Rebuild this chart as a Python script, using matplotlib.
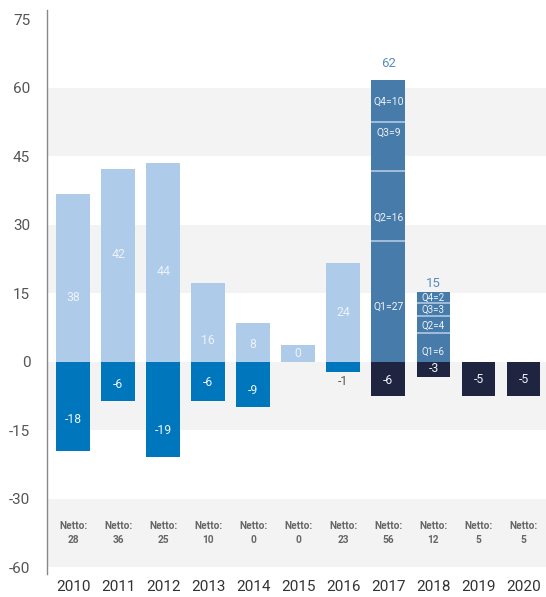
import matplotlib
matplotlib.use("Agg")
import matplotlib.pyplot as plt

plt.rcParams['font.family'] = ['Roboto', 'DejaVu Sans']

years = ['2010', '2011', '2012', '2013', '2014', '2015', '2016', '2017', '2018', '2019', '2020']
# bar heights as drawn
pos_heights = [36.7, 42.2, 43.5, 17.2, 8.5, 3.7, 21.7, None, None, None, None]
neg_heights = [-19.6, -8.5, -20.9, -8.5, -9.8, 0, -2.2, -7.6, -3.3, -7.4, -7.4]
# printed labels
pos_labels = ['38', '42', '44', '16', '8', '0', '24', None, None, None, None]
neg_labels = ['-18', '-6', '-19', '-6', '-9', None, '-1', '-6', '-3', '-5', '-5']
netto = ['28', '36', '25', '10', '0', '0', '23', '56', '12', '5', '5']

# quarterly stacks
q_2017 = [26.5, 15.2, 10.9, 9.1]
q_2017_labels = ['Q1=27', 'Q2=16', 'Q3=9', 'Q4=10']
q_2018 = [6.3, 3.7, 2.8, 2.4]
q_2018_labels = ['Q1=6', 'Q2=4', 'Q3=3', 'Q4=2']
totals = {7: '62', 8: '15'}

yticks = [75, 60, 45, 30, 15, 0, -15, -30, -45]
ytick_labels = ['75', '60', '45', '30', '15', '0', '-15', '-30', '-60']

# label placements (data units)
pos_label_y = [14.1, 23.5, 19.8, 4.6, 3.7, 1.8, 10.9]
neg_label_y = [-12.6, -5.0, -15.0, -4.6, -6.3, None, -4.3, -4.1, -1.5, -3.9, -3.9]
q_2017_label_y = [12.0, 31.5, 50.2, 57.0]
q_2018_label_y = [2.2, 7.8, 11.3, 14.1]
total_label_y = {7: 65.4, 8: 17.2}

LIGHT = '#AECBEA'
BLUE = '#0077BD'
STEEL = '#477BAA'
NAVY = '#1F2440'
BAND = '#F3F3F3'
TXT = '#555555'
INSIDE = '#EEF3FA'

fig = plt.figure(figsize=(5.46, 5.97), dpi=100)
ax = fig.add_axes([0.086, 0.050, 0.914, 0.925])
ax.set_xlim(-0.58, 10.5)
ax.set_ylim(-45, 76)

for lo, hi in [(45, 60), (15, 30), (-15, 0), (-45, -30)]:
    ax.axhspan(lo, hi, color=BAND, zorder=0, lw=0)

w = 0.75
x = list(range(len(years)))

for i in range(len(years)):
    if pos_heights[i] is not None:
        ax.bar(i, pos_heights[i], width=w, color=LIGHT, zorder=2)
        ax.text(i, pos_label_y[i], pos_labels[i], ha='center', va='center',
                color=INSIDE, fontsize=8.8, zorder=4)
    if neg_heights[i] != 0:
        c = BLUE if i <= 6 else NAVY
        ax.bar(i, neg_heights[i], width=w, color=c, zorder=2)
    if neg_labels[i] is not None:
        col = TXT if i == 6 else INSIDE
        ax.text(i, neg_label_y[i], neg_labels[i], ha='center', va='center',
                color=col, fontsize=8.8, zorder=4)

for idx, qs, qlabs, qy in [(7, q_2017, q_2017_labels, q_2017_label_y),
                           (8, q_2018, q_2018_labels, q_2018_label_y)]:
    bottom = 0
    for k, (v, lab, ly) in enumerate(zip(qs, qlabs, qy)):
        ax.bar(idx, v, bottom=bottom, width=w, color=STEEL, zorder=2)
        if k > 0:
            ax.plot([idx - w / 2, idx + w / 2], [bottom, bottom], color='#A9C3DF',
                    lw=1.3, zorder=3, solid_capstyle='butt')
        ax.text(idx, ly, lab, ha='center', va='center', color=INSIDE,
                fontsize=7 if idx == 8 else 7.5, zorder=4)
        bottom += v
    ax.text(idx, total_label_y[idx], totals[idx], ha='center', va='center',
            color='#5A8CC0', fontsize=9.5)

for i, n in enumerate(netto):
    ax.text(i, -37.5, 'Netto:\n' + n, ha='center', va='center', color='#666666',
            fontsize=7.3, fontweight='bold', linespacing=1.45)

ax.set_yticks(yticks)
ax.set_yticklabels(ytick_labels)
ax.set_xticks(x)
ax.set_xticklabels(years)
ax.tick_params(axis='y', length=0, pad=12, labelsize=11, labelcolor=TXT)
ax.tick_params(axis='x', length=0, pad=9, labelsize=11, labelcolor='#333333')
for s in ['top', 'right', 'bottom']:
    ax.spines[s].set_visible(False)
ax.spines['left'].set_color('#888888')
ax.spines['left'].set_linewidth(1.0)
ax.spines['left'].set_bounds(-46.5, 77)

fig.savefig('out.png', dpi=100)
